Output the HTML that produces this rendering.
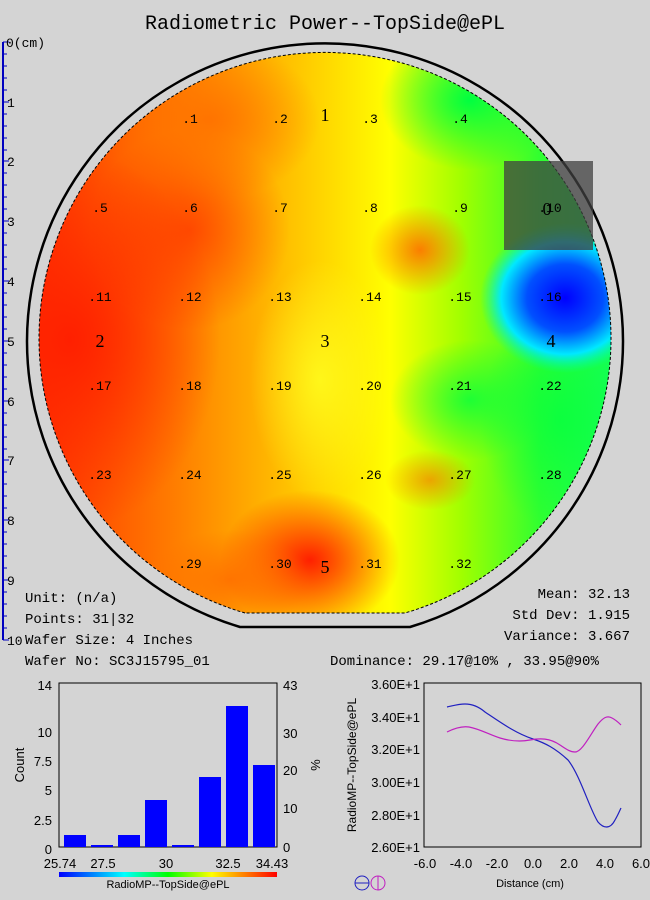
<!DOCTYPE html>
<html><head><meta charset="utf-8"><style>
html,body{margin:0;padding:0;background:#d4d4d4;}
body{width:650px;height:900px;position:relative;overflow:hidden;font-family:"Liberation Mono","Noto Sans CJK SC",monospace;}
svg{position:absolute;left:0;top:0;}
</style></head><body>
<svg width="650" height="900" xmlns="http://www.w3.org/2000/svg">
<defs>
<clipPath id="wc"><path d="M245,613 A286,286 0 1 1 405,613 Z"/></clipPath>
<linearGradient id="base" x1="0" x2="1" y1="0" y2="0">
<stop offset="0" stop-color="#ff3000"/><stop offset="0.25" stop-color="#ff8000"/>
<stop offset="0.45" stop-color="#ffc800"/><stop offset="0.6" stop-color="#ffff00"/>
<stop offset="0.72" stop-color="#a0ff00"/><stop offset="0.85" stop-color="#30ff30"/><stop offset="1" stop-color="#10ff60"/>
</linearGradient>
<radialGradient id="red"><stop offset="0" stop-color="#ff2000" stop-opacity="1"/><stop offset="1" stop-color="#ff2000" stop-opacity="0"/></radialGradient>
<radialGradient id="org"><stop offset="0" stop-color="#ff7000" stop-opacity="0.9"/><stop offset="1" stop-color="#ff7000" stop-opacity="0"/></radialGradient>
<radialGradient id="yel"><stop offset="0" stop-color="#ffff20" stop-opacity="1"/><stop offset="1" stop-color="#ffff20" stop-opacity="0"/></radialGradient>
<radialGradient id="grn"><stop offset="0" stop-color="#00ff40" stop-opacity="1"/><stop offset="1" stop-color="#00ff40" stop-opacity="0"/></radialGradient>
<radialGradient id="blu"><stop offset="0" stop-color="#0000ff"/><stop offset="0.45" stop-color="#0050ff"/><stop offset="0.75" stop-color="#00e8ff"/><stop offset="1" stop-color="#00ffa0" stop-opacity="0"/></radialGradient>
</defs>
<text x="325" y="29" text-anchor="middle" font-size="20" font-family="Liberation Mono,monospace" fill="#000">Radiometric Power--TopSide@ePL</text>
<line x1="3" y1="42" x2="3" y2="640" stroke="#0000c0" stroke-width="2"/>
<g stroke="#0000c0" stroke-width="1">
<path d="M3,42h6M3,54h4M3,66h4M3,78h4M3,90h4M3,102h6M3,114h4M3,126h4M3,138h4M3,150h4M3,161h6M3,173h4M3,185h4M3,197h4M3,209h4M3,221h6M3,233h4M3,245h4M3,257h4M3,269h4M3,281h6M3,293h4M3,305h4M3,317h4M3,329h4M3,341h6M3,353h4M3,365h4M3,377h4M3,389h4M3,401h6M3,413h4M3,425h4M3,437h4M3,449h4M3,460h6M3,472h4M3,484h4M3,496h4M3,508h4M3,520h6M3,532h4M3,544h4M3,556h4M3,568h4M3,580h6M3,592h4M3,604h4M3,616h4M3,628h4M3,640h6"/>
</g>
<g font-size="13" fill="#000" font-family="Liberation Mono,monospace">
<text x="6" y="47">0(cm)</text><text x="7" y="107">1</text><text x="7" y="166">2</text><text x="7" y="226">3</text><text x="7" y="286">4</text><text x="7" y="346">5</text><text x="7" y="406">6</text><text x="7" y="465">7</text><text x="7" y="525">8</text><text x="7" y="585">9</text><text x="7" y="645">10</text>
</g>
<path d="M240,627 A298,298 0 1 1 410,627 Z" fill="none" stroke="#000" stroke-width="2.5"/>
<g clip-path="url(#wc)">
<rect x="30" y="50" width="600" height="580" fill="url(#base)"/>
<ellipse cx="70" cy="340" rx="150" ry="190" fill="url(#red)"/>
<ellipse cx="190" cy="230" rx="100" ry="100" fill="url(#red)" opacity="0.6"/>
<ellipse cx="210" cy="120" rx="110" ry="80" fill="url(#org)"/>
<ellipse cx="310" cy="560" rx="90" ry="70" fill="url(#red)"/>
<ellipse cx="230" cy="580" rx="80" ry="50" fill="url(#org)"/>
<ellipse cx="420" cy="250" rx="50" ry="45" fill="url(#org)"/>
<ellipse cx="430" cy="480" rx="45" ry="30" fill="url(#org)" opacity="0.7"/>
<ellipse cx="320" cy="380" rx="70" ry="120" fill="url(#yel)" opacity="0.8"/>
<ellipse cx="470" cy="100" rx="90" ry="70" fill="url(#grn)"/>
<ellipse cx="470" cy="400" rx="80" ry="60" fill="url(#grn)" opacity="0.8"/>
<ellipse cx="560" cy="420" rx="80" ry="110" fill="url(#grn)" opacity="0.7"/>
<ellipse cx="565" cy="298" rx="85" ry="75" fill="url(#blu)"/>
</g>
<path d="M245,613 A286,286 0 1 1 405,613 Z" fill="none" stroke="#000" stroke-width="1" stroke-dasharray="3,2"/>
<rect x="504" y="161" width="89" height="89" fill="#404040" fill-opacity="0.75"/>
<g font-size="13" fill="#000" font-family="Liberation Mono,monospace" text-anchor="middle">
<text x="190" y="123">.1</text><text x="280" y="123">.2</text><text x="370" y="123">.3</text><text x="460" y="123">.4</text>
<text x="100" y="212">.5</text><text x="190" y="212">.6</text><text x="280" y="212">.7</text><text x="370" y="212">.8</text><text x="460" y="212">.9</text><text x="550" y="212">.10</text>
<text x="100" y="301">.11</text><text x="190" y="301">.12</text><text x="280" y="301">.13</text><text x="370" y="301">.14</text><text x="460" y="301">.15</text><text x="550" y="301">.16</text>
<text x="100" y="390">.17</text><text x="190" y="390">.18</text><text x="280" y="390">.19</text><text x="370" y="390">.20</text><text x="460" y="390">.21</text><text x="550" y="390">.22</text>
<text x="100" y="479">.23</text><text x="190" y="479">.24</text><text x="280" y="479">.25</text><text x="370" y="479">.26</text><text x="460" y="479">.27</text><text x="550" y="479">.28</text>
<text x="190" y="568">.29</text><text x="280" y="568">.30</text><text x="370" y="568">.31</text><text x="460" y="568">.32</text>
</g>
<g font-size="18" fill="#000" font-family="Liberation Serif,serif" text-anchor="middle">
<text x="325" y="121">1</text><text x="100" y="347">2</text><text x="325" y="347">3</text><text x="551" y="347">4</text><text x="325" y="573">5</text><text x="547" y="215">0</text>
</g>
<g font-size="14" fill="#000" font-family="Liberation Mono,monospace">
<text x="25" y="602">Unit: (n/a)</text><text x="25" y="623">Points: 31|32</text><text x="25" y="644">Wafer Size: 4 Inches</text><text x="25" y="665">Wafer No: SC3J15795_01</text>
<text x="630" y="598" text-anchor="end">Mean: 32.13</text><text x="630" y="619" text-anchor="end">Std Dev: 1.915</text><text x="630" y="640" text-anchor="end">Variance: 3.667</text>
<text x="330" y="665">Dominance: 29.17@10% , 33.95@90%</text>
</g>
<g font-family="Liberation Sans,sans-serif" font-size="13" fill="#000">
<rect x="59" y="683" width="218" height="164" fill="none" stroke="#000"/>
<g fill="#0000ff">
<rect x="64" y="835" width="22" height="12"/><rect x="91" y="845" width="22" height="2"/><rect x="118" y="835" width="22" height="12"/><rect x="145" y="800" width="22" height="47"/><rect x="172" y="845" width="22" height="2"/><rect x="199" y="777" width="22" height="70"/><rect x="226" y="706" width="22" height="141"/><rect x="253" y="765" width="22" height="82"/>
</g>
<text x="52" y="690" text-anchor="end">14</text><text x="52" y="737" text-anchor="end">10</text><text x="52" y="766" text-anchor="end">7.5</text><text x="52" y="795" text-anchor="end">5</text><text x="52" y="825" text-anchor="end">2.5</text><text x="52" y="854" text-anchor="end">0</text>
<text x="283" y="690">43</text><text x="283" y="738">30</text><text x="283" y="775">20</text><text x="283" y="813">10</text><text x="283" y="852">0</text>
<text transform="translate(24,765) rotate(-90)" text-anchor="middle">Count</text>
<text transform="translate(311,765) rotate(90)" text-anchor="middle">%</text>
<text x="60" y="868" text-anchor="middle">25.74</text><text x="103" y="868" text-anchor="middle">27.5</text><text x="166" y="868" text-anchor="middle">30</text><text x="228" y="868" text-anchor="middle">32.5</text><text x="272" y="868" text-anchor="middle">34.43</text>
<text x="168" y="888" text-anchor="middle" font-size="11">RadioMP--TopSide@ePL</text>
</g>
<defs><linearGradient id="cb"><stop offset="0" stop-color="#0000ff"/><stop offset="0.3" stop-color="#00ffff"/><stop offset="0.5" stop-color="#00ff00"/><stop offset="0.7" stop-color="#ffff00"/><stop offset="1" stop-color="#ff0000"/></linearGradient></defs>
<rect x="59" y="872" width="218" height="5" fill="url(#cb)"/>
<g font-family="Liberation Sans,sans-serif" font-size="13" fill="#000">
<rect x="424" y="683" width="217" height="164" fill="none" stroke="#000"/>
<text x="420" y="689" text-anchor="end">3.60E+1</text><text x="420" y="722" text-anchor="end">3.40E+1</text><text x="420" y="754" text-anchor="end">3.20E+1</text><text x="420" y="787" text-anchor="end">3.00E+1</text><text x="420" y="820" text-anchor="end">2.80E+1</text><text x="420" y="852" text-anchor="end">2.60E+1</text>
<text x="425" y="868" text-anchor="middle">-6.0</text><text x="461" y="868" text-anchor="middle">-4.0</text><text x="497" y="868" text-anchor="middle">-2.0</text><text x="533" y="868" text-anchor="middle">0.0</text><text x="569" y="868" text-anchor="middle">2.0</text><text x="605" y="868" text-anchor="middle">4.0</text><text x="641" y="868" text-anchor="middle">6.0</text>
<text x="530" y="887" text-anchor="middle" font-size="11">Distance (cm)</text>
<text transform="translate(356,765) rotate(-90)" text-anchor="middle" font-size="12">RadioMP--TopSide@ePL</text>
</g>
<path d="M447,707 C452,706 458,704 465,704 C472,704 478,706 485,712 C500,722 515,733 533,739 C545,743 555,748 568,760 C580,775 590,810 598,822 C603,828 610,830 615,820 C618,815 620,810 621,808" fill="none" stroke="#2020c0" stroke-width="1.2"/>
<path d="M447,732 C455,728 462,726 469,727 C480,729 490,735 500,738 C510,741 520,742 530,740 C540,738 550,738 560,745 C566,749 570,752 575,752 C582,752 590,735 598,724 C603,718 607,715 612,718 C616,720 619,723 621,725" fill="none" stroke="#c020c0" stroke-width="1.2"/>
<circle cx="362" cy="883" r="7" fill="none" stroke="#2020c0"/><line x1="355" y1="883" x2="369" y2="883" stroke="#2020c0"/>
<circle cx="378" cy="883" r="7" fill="none" stroke="#c020c0"/><line x1="378" y1="876" x2="378" y2="890" stroke="#c020c0"/>
</svg>
</body></html>
